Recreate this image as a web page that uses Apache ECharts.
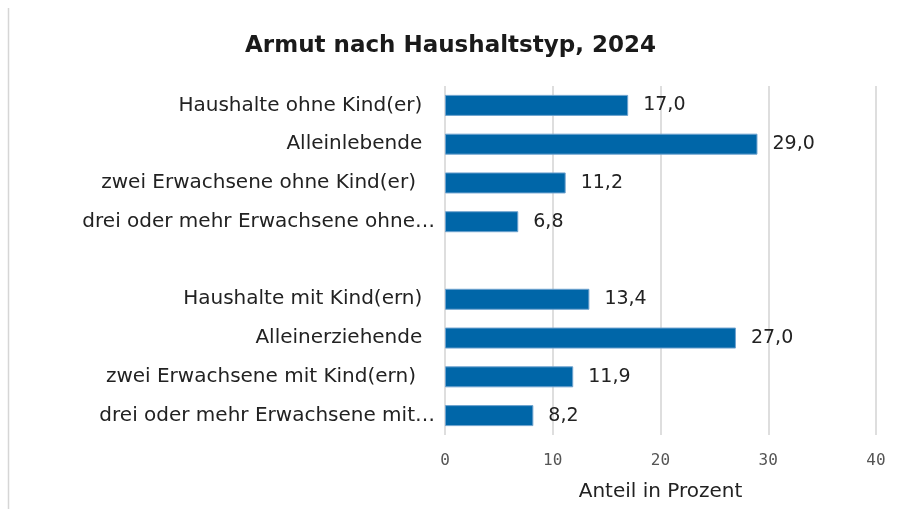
<!DOCTYPE html>
<html>
<head>
<meta charset="utf-8">
<script src="https://cdn.jsdelivr.net/npm/echarts@6/dist/echarts.min.js"></script>
<style>
  html, body { margin: 0; padding: 0; background: #fff; }
  #main { width: 901px; height: 509px; }
</style>
</head>
<body>
<div id="main"></div>
<script>
// Kategorien (leerer Eintrag = Abstand zwischen den Gruppen)
var categories = [
  'Haushalte ohne Kind(er)  ',
  'Alleinlebende  ',
  'zwei Erwachsene ohne Kind(er)   ',
  'drei oder mehr Erwachsene ohne Kind(er)',
  '',
  'Haushalte mit Kind(ern)  ',
  'Alleinerziehende  ',
  'zwei Erwachsene mit Kind(ern)   ',
  'drei oder mehr Erwachsene mit Kind(ern)'
];
var values = [17.0, 29.0, 11.2, 6.8, null, 13.4, 27.0, 11.9, 8.2];
var xTicks = [0, 10, 20, 30, 40];

var maxLabelChars = 30;

var chart = echarts.init(document.getElementById('main'), null, { renderer: 'canvas' });

var textFont = 'DejaVu Sans';

var option = {
  backgroundColor: '#fff',
  animation: false,
  title: {
    text: 'Armut nach Haushaltstyp, 2024',
    left: 'center',
    top: 30,
    textStyle: {
      fontFamily: textFont,
      fontWeight: 'bold',
      fontSize: 23,
      color: '#1a1a1a'
    }
  },
  graphic: [{
    type: 'line',
    shape: { x1: 8.5, y1: 8, x2: 8.5, y2: 509 },
    style: { stroke: '#d6d6d6', lineWidth: 1.5 }
  }],
  grid: {
    left: 445,
    right: 25,
    top: 86,
    bottom: 74,
    containLabel: false
  },
  xAxis: {
    type: 'value',
    min: xTicks[0],
    max: xTicks[xTicks.length - 1],
    interval: 10,
    name: 'Anteil in Prozent',
    nameLocation: 'middle',
    nameGap: 47,
    nameTextStyle: { fontFamily: textFont, fontSize: 20, color: '#222' },
    axisLine: { show: false },
    axisTick: { show: false },
    axisLabel: {
      fontFamily: 'DejaVu Sans Mono',
      fontSize: 16,
      color: '#555',
      margin: 18
    },
    splitLine: { lineStyle: { color: '#d3d3d3', width: 1.5 } }
  },
  yAxis: {
    type: 'category',
    data: categories,
    inverse: true,
    axisLine: { show: false },
    axisTick: { show: false },
    axisLabel: {
      fontFamily: textFont,
      fontSize: 20,
      color: '#222',
      margin: 10,
      // lange Namen wie im Original abkürzen
      formatter: function (v) {
        if (v.trim().length > maxLabelChars) {
          return v.slice(0, maxLabelChars).trim() + '…';
        }
        return v;
      }
    }
  },
  series: [{
    type: 'bar',
    data: values,
    barWidth: 21,
    itemStyle: {
      color: '#0066a8',
      borderColor: '#6fa3cf',
      borderWidth: 1
    },
    label: {
      show: true,
      position: 'right',
      distance: 15,
      fontFamily: textFont,
      fontSize: 19,
      color: '#222',
      formatter: function (p) {
        return p.value == null ? '' : p.value.toFixed(1).replace('.', ',');
      }
    }
  }]
};

chart.setOption(option);
</script>
</body>
</html>
